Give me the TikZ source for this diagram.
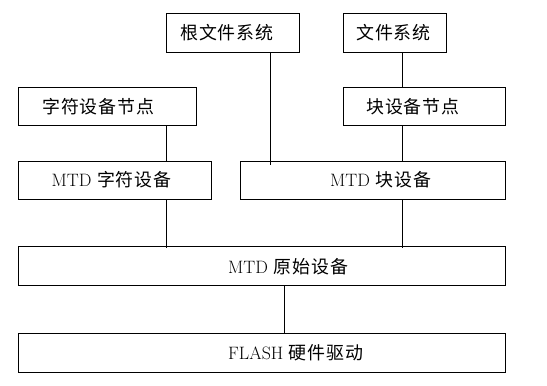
\documentclass[tikz,border=0pt]{standalone}
\usepackage{fontspec}
\newfontfamily\cjk{Noto Sans CJK SC}[LetterSpace=5]
\begin{document}
\begin{tikzpicture}[x=1bp,y=-1bp,
  box/.style={draw,line width=1bp,rectangle,inner sep=0pt},
  lbl/.style={anchor=west,inner sep=0pt,font=\fontsize{18}{21}\selectfont},
  link/.style={line width=1bp}]
\useasboundingbox (0,0) rectangle (547,385);
% boxes
\node[box,minimum width=132.5bp,minimum height=39bp] (root) at (232.75,32.65) {};
\node[box,minimum width=103bp,minimum height=39bp] (fs) at (395,32.65) {};
\node[box,minimum width=177bp,minimum height=38bp] (chnode) at (107.5,106.5) {};
\node[box,minimum width=161.5bp,minimum height=38bp] (blknode) at (424.25,106.5) {};
\node[box,minimum width=192bp,minimum height=38bp] (mtdchr) at (115,180) {};
\node[box,minimum width=265bp,minimum height=38bp] (mtdblk) at (372.5,180) {};
\node[box,minimum width=486bp,minimum height=39.3bp] (raw) at (262,266.3) {};
\node[box,minimum width=486bp,minimum height=39bp] (flash) at (262,352.5) {};
% labels
\node[lbl] (troot) at (180,33) {\cjk 根文件系统};
\node[lbl] (tfs) at (356,33) {\cjk 文件系统};
\node[lbl] (tchnode) at (42,106.5) {\cjk 字符设备节点};
\node[lbl] (tblknode) at (366,106.5) {\cjk 块设备节点};
\node[lbl] (tmtdchr) at (51.5,180) {MTD {\cjk 字符设备}};
\node[lbl] (tmtdblk) at (330,180) {MTD {\cjk 块设备}};
\node[lbl] (traw) at (228,266.5) {MTD {\cjk 原始设备}};
\node[lbl] (tflash) at (228,352.5) {FLASH {\cjk 硬件驱动}};
% connector columns
\coordinate (xr) at (270,0);
\coordinate (xb) at (402,0);
\coordinate (xc) at (166.5,0);
\coordinate (xf) at (284,0);
% connectors
\draw[link] (root.south -| xr) -- ([yshift=-4bp]mtdblk.north -| xr);
\draw[link] (fs.south -| xb) -- (blknode.north -| xb);
\draw[link] (blknode.south -| xb) -- (mtdblk.north -| xb);
\draw[link] (chnode.south -| xc) -- (mtdchr.north -| xc);
\draw[link] (mtdchr.south -| xc) -- ([yshift=-2bp]raw.north -| xc);
\draw[link] (mtdblk.south -| xb) -- ([yshift=-2bp]raw.north -| xb);
\draw[link] (raw.south -| xf) -- (flash.north -| xf);
\end{tikzpicture}
\end{document}
